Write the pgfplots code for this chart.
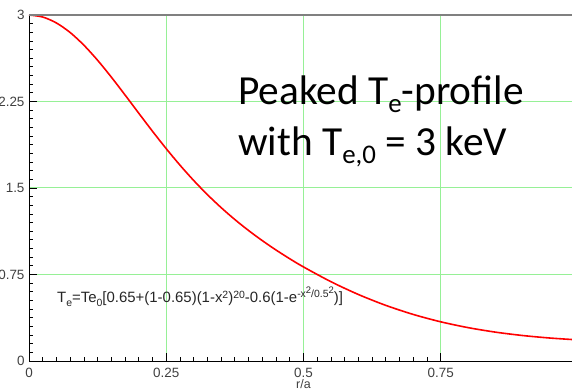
\documentclass[border=0pt]{standalone}
\usepackage{pgfplots}
\pgfplotsset{compat=1.18}
\usepackage{fontspec}
\setmainfont{Liberation Sans}
\newfontfamily\calibri{Carlito}
\definecolor{gridgreen}{RGB}{150,240,150}
\definecolor{toplinegray}{RGB}{128,128,128}
\newcommand\sub[1]{\raisebox{-4bp}{\fontsize{10.5}{10.5}\selectfont #1}}
\newcommand\sups[1]{\raisebox{4.5bp}{\fontsize{10.5}{10.5}\selectfont #1}}
\newcommand\supsup[1]{\raisebox{3.5bp}{\fontsize{9.5}{9.5}\selectfont #1}}
\begin{document}
\begin{tikzpicture}
\path[use as bounding box, clip] (-29bp,-31bp) rectangle (543bp,361bp);
\begin{axis}[
  anchor=origin, at={(0,0)},
  scale only axis, width=549bp, height=346bp,
  xmin=0, xmax=1, ymin=0, ymax=3,
  xtick={0,0.25,0.5,0.75}, xticklabels={0,0.25,0.5,0.75},
  ytick={0,0.75,1.5,2.25,3}, yticklabels={0,0.75,1.5,2.25,3},
  minor x tick num=9, minor y tick num=9,
  tick align=inside, xtick pos=left, ytick pos=left,
  major tick length=8bp, minor tick length=4bp,
  tick style={black, line width=0.8bp},
  grid=major, major grid style={gridgreen, line width=1bp},
  axis line style={black, line width=1bp},
  tick label style={font=\fontsize{13.5}{13.5}\selectfont, text=black!75},
  xticklabel style={anchor=north, inner sep=0pt, yshift=-7bp},
  yticklabel style={xshift=-1bp},
  /pgf/number format/assume math mode=true,
  xlabel={r/a},
  xlabel style={at={(axis description cs:0.5,0)}, anchor=north, yshift=-18.5bp, inner sep=0pt, font=\fontsize{12.5}{12.5}\selectfont, text=black!75},
  title={T\textsubscript{e}},
  title style={at={(axis description cs:0.5,1)}, anchor=south, yshift=10bp, inner sep=0pt, font=\fontsize{14}{14}\selectfont, text=black!75},
  clip=false,
]
\addplot[red, line width=1.6bp, smooth] coordinates {
(0,3.0) (0.025,2.98246) (0.05,2.93082) (0.075,2.84794) (0.1,2.73822)
(0.125,2.60726) (0.15,2.46117) (0.175,2.30615) (0.2,2.14796) (0.225,1.99155)
(0.25,1.84067) (0.275,1.69803) (0.3,1.56503) (0.325,1.44232) (0.35,1.32968)
(0.375,1.22629) (0.4,1.13125) (0.425,1.04349) (0.45,0.96217) (0.475,0.88631)
(0.5,0.81551) (0.55,0.68749) (0.6,0.57661) (0.65,0.48215) (0.7,0.40354)
(0.75,0.33972) (0.8,0.28915) (0.85,0.25002) (0.9,0.22049) (0.95,0.19871)
(1.0,0.18297)
};
\draw[toplinegray, line width=2bp] (rel axis cs:0,1) -- (rel axis cs:1,1);
\node[anchor=base west, inner sep=0pt, font=\calibri\fontsize{41.5}{41.5}\selectfont] at (axis cs:0.3807,2.2197)
  {Peaked T\raisebox{-8bp}{\fontsize{27}{27}\selectfont e}-profile};
\node[anchor=base west, inner sep=0pt, font=\calibri\fontsize{41.5}{41.5}\selectfont] at (axis cs:0.3807,1.786)
  {with T\raisebox{-8bp}{\fontsize{27}{27}\selectfont e,0} = 3 keV};
\node[anchor=base west, inner sep=0pt, font=\fontsize{15}{15}\selectfont, text=black!85] at (axis cs:0.051,0.503)
  {T\sub{e}=Te\sub{0}[0.65+(1-0.65)(1-x\sups{2})\sups{20}-0.6(1-e\raisebox{5.5bp}{\fontsize{10.5}{10.5}\selectfont -x\supsup{2}/0.5\supsup{2}})]};
\end{axis}
\end{tikzpicture}
\end{document}
